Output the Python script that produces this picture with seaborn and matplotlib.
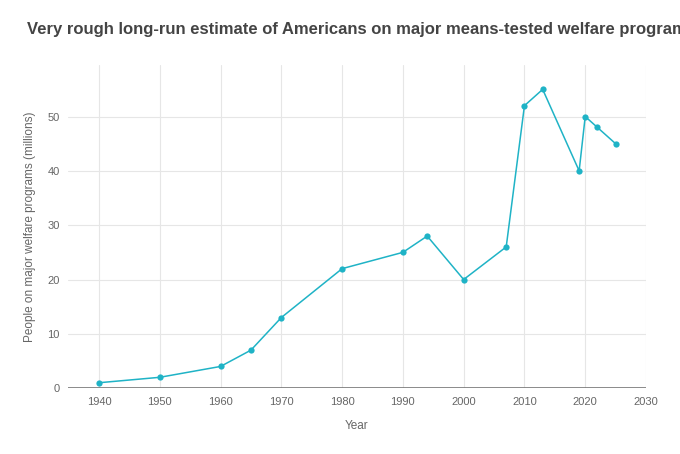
import pandas as pd
import seaborn as sns
import matplotlib.pyplot as plt

data = pd.DataFrame({
    'year': [1940, 1950, 1960, 1965, 1970, 1980, 1990, 1994, 2000, 2007,
             2010, 2013, 2019, 2020, 2022, 2025],
    'people': [1, 2, 4, 7, 13, 22, 25, 28, 20, 26, 52, 55, 40, 50, 48, 45],
})

sns.set_style('white')
plt.rcParams['font.family'] = ['Liberation Sans', 'DejaVu Sans']

fig, ax = plt.subplots(figsize=(6.8, 4.54), dpi=100)
fig.subplots_adjust(left=0.1, right=0.95, top=0.857, bottom=0.145)

sns.lineplot(x='year', y='people', data=data, color='#1fb3c6', marker='o',
             markersize=4.5, markeredgewidth=0, linewidth=1.1, ax=ax)

ax.set_xlim(1934.9, 2030)
ax.set_ylim(0, 59.5)
ax.set_xticks(range(1940, 2031, 10))
ax.set_yticks(range(0, 51, 10))
ax.grid(True, color='#e6e6e6', linewidth=0.8)
for s in ax.spines.values():
    s.set_visible(False)
ax.axhline(0, color='#777777', linewidth=1.2, zorder=1)
ax.tick_params(colors='#666666', labelsize=8, length=0, pad=6)
ax.set_xlabel('Year', color='#666666', fontsize=8.5, labelpad=10)
ax.set_ylabel('People on major welfare programs (millions)', color='#666666',
              fontsize=8.5, labelpad=8)
fig.text(0.04, 0.925, 'Very rough long-run estimate of Americans on major means-tested welfare programs',
         fontsize=12, color='#444444', fontweight='semibold')

plt.savefig('out.png')
